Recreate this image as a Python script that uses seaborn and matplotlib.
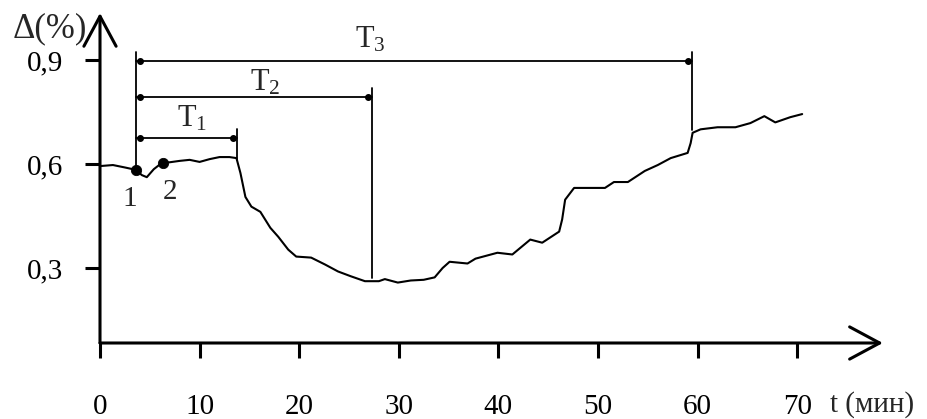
import numpy as np
import pandas as pd
import seaborn as sns
import matplotlib.pyplot as plt

# curve: time (min) and delta (%)
t_min = [0.0, 1.3, 2.5, 3.3, 3.6, 4.2, 4.7, 5.4, 6.2, 7.0, 8.0, 9.0, 10.0, 11.0,
         12.0, 13.0, 13.7, 14.1, 14.6, 15.2, 16.1, 17.1, 17.9, 18.9, 19.7, 21.2,
         22.6, 23.9, 25.2, 26.6, 27.3, 28.0, 28.6, 29.9, 31.2, 32.5, 33.6, 34.4,
         35.1, 36.9, 37.7, 39.9, 41.4, 43.2, 44.4, 46.1, 46.4, 46.7, 47.6, 50.7,
         51.6, 53.0, 54.7, 56.0, 57.3, 59.0, 59.3, 59.5, 60.3, 62.0, 63.8, 65.3,
         66.7, 67.8, 69.3, 70.5]
delta = [0.594, 0.597, 0.590, 0.585, 0.583, 0.568, 0.562, 0.585, 0.603, 0.605,
         0.609, 0.612, 0.606, 0.614, 0.620, 0.620, 0.617, 0.574, 0.505, 0.477,
         0.462, 0.416, 0.390, 0.353, 0.333, 0.330, 0.310, 0.290, 0.276, 0.262,
         0.262, 0.262, 0.268, 0.258, 0.264, 0.266, 0.273, 0.300, 0.318, 0.313,
         0.327, 0.344, 0.339, 0.382, 0.373, 0.405, 0.440, 0.497, 0.531, 0.531,
         0.548, 0.548, 0.580, 0.597, 0.617, 0.632, 0.660, 0.690, 0.700, 0.706,
         0.706, 0.718, 0.738, 0.720, 0.735, 0.744]

# marked points 1 and 2
point_t = [3.6, 6.3]
point_v = [0.583, 0.603]
point_names = ["1", "2"]

# intervals T1..T3: common start, end times, level of the bracket
t_start = 3.6
t_end = [13.8, 27.3, 59.4]
level = [0.675, 0.793, 0.897]
end_bottom = [0.612, 0.271, 0.698]
interval_names = [r"$\mathrm{T_1}$", r"$\mathrm{T_2}$", r"$\mathrm{T_3}$"]
interval_label_t = [9.2, 16.6, 27.1]
interval_label_v = [0.707, 0.811, 0.935]

x_ticks = [0, 10, 20, 30, 40, 50, 60, 70]
y_ticks = [0.3, 0.6, 0.9]
y_tick_labels = ["0,3", "0,6", "0,9"]

sns.set_style("ticks")
plt.rcParams["font.family"] = ["Liberation Serif", "DejaVu Serif"]
plt.rcParams["mathtext.fontset"] = "custom"
plt.rcParams["mathtext.rm"] = "Liberation Serif"

W, H = 927, 419
x0_px, y0_px = 100, 343          # where the axes cross
px_per_t, px_per_v = 9.96, 346.7
v_ref_px = 164                    # pixel row of 0.6
y_bottom = 0.6 - (y0_px - v_ref_px) / px_per_v
y_top = 1.04
x_right = 80

fig = plt.figure(figsize=(W / 100, H / 100), dpi=100)
top_px = v_ref_px - (y_top - 0.6) * px_per_v
ax = fig.add_axes([x0_px / W, (H - y0_px) / H,
                   x_right * px_per_t / W, (y0_px - top_px) / H])
ax.set_xlim(0, x_right)
ax.set_ylim(y_bottom, y_top)
for s in ax.spines.values():
    s.set_visible(False)

df = pd.DataFrame({"t": t_min, "delta": delta})
sns.lineplot(data=df, x="t", y="delta", ax=ax, color="black", lw=1.5)
sns.scatterplot(x=point_t, y=point_v, ax=ax, color="black", s=55,
                edgecolor="black", zorder=5)
for tx, vy, name in zip(point_t, point_v, point_names):
    ax.text(tx - 0.6 + 1.3 * (name == "2"), vy - 0.085, name, fontsize=21,
            ha="center", va="center")

# brackets
ax.plot([t_start, t_start], [point_v[0], level[2] + 0.025], color="black", lw=1.3)
for te, lv, eb, nm, lt, lvv in zip(t_end, level, end_bottom, interval_names,
                                   interval_label_t, interval_label_v):
    ax.plot([t_start, te], [lv, lv], color="black", lw=1.3)
    ax.plot([te, te], [eb, lv + 0.025], color="black", lw=1.3)
    ax.plot([t_start + 0.4, te - 0.4], [lv, lv], ls="none", marker="o",
            ms=4, color="black")
    ax.text(lt, lvv, nm, fontsize=22, ha="center", va="baseline")

# axes with open arrow heads
arrow = dict(arrowstyle="->,head_length=1.08,head_width=0.58", lw=2.2,
             color="black", mutation_scale=20, shrinkA=0, shrinkB=0)
ax.annotate("", xy=(0, 1.0355), xytext=(0, y_bottom), arrowprops=arrow,
            annotation_clip=False)
ax.annotate("", xy=(78.6, y_bottom), xytext=(0, y_bottom), arrowprops=arrow,
            annotation_clip=False)

ax.set_xticks(x_ticks)
ax.set_xticklabels([str(v) for v in x_ticks])
ax.set_yticks(y_ticks)
ax.set_yticklabels(y_tick_labels)
ax.tick_params(axis="both", direction="out", length=10.5, width=2.2,
               color="black", labelsize=21, labelcolor="black")
ax.tick_params(axis="x", pad=26)
ax.tick_params(axis="y", pad=16)
ax.set_xlabel("")
ax.set_ylabel("")

fig.text(830 / W, 1 - 405 / H, "t (мин)", fontsize=21, ha="left", va="center")
fig.text(50 / W, 1 - 29 / H, "Δ(%)", fontsize=25, ha="center", va="center")

fig.savefig("out.png", dpi=100, facecolor="white")
